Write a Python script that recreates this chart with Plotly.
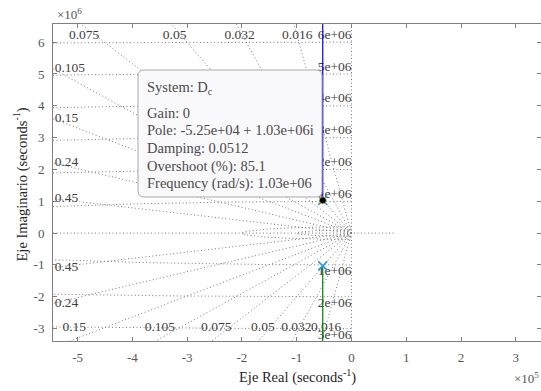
import numpy as np
import plotly.graph_objects as go

# ---------------- data ----------------
zeta_vals = [0.016, 0.032, 0.05, 0.075, 0.105, 0.15, 0.24, 0.45]
zeta_labels = ["0.016", "0.032", "0.05", "0.075", "0.105", "0.15", "0.24", "0.45"]
wn_vals = [1e6, 2e6, 3e6, 4e6, 5e6, 6e6]
wn_labels = ["1e+06", "2e+06", "3e+06", "4e+06", "5e+06", "6e+06"]
small_wn_vals = [1e5, 2e5]

pole_re = -5.25e4
pole_im = [1.03e6, -1.03e6]
locus_up_im = [1.03e6, 8e6]
locus_dn_im = [-1.03e6, -8e6]

x_tick_vals = [-5, -4, -3, -2, -1, 0, 1, 2, 3]
y_tick_vals = [-3, -2, -1, 0, 1, 2, 3, 4, 5, 6]
x_scale = 1e5
y_scale = 1e6
XR = [-5.45e5, 3.46e5]
YR = [-3.39e6, 6.57e6]

tip_lines = ["System: D<sub>c</sub>", "Gain: 0", "Pole: -5.25e+04 + 1.03e+06i",
             "Damping: 0.0512", "Overshoot (%): 85.1", "Frequency (rad/s): 1.03e+06"]

# ---------------- layout constants ----------------
W, H = 541, 391
ML, MR, MT, MB = 53, 0, 24, 50
PW, PH = W - ML - MR, H - MT - MB
SERIF = "Liberation Serif, Times New Roman, serif"
GRID = "#7a7a7a"


def px2paper(px, py):
    return (px - ML) / PW, (H - MB - py) / PH


fig = go.Figure()

# ---------------- sgrid ----------------
gx, gy = [], []
R = 1e9
for z in zeta_vals:
    s = np.sqrt(1 - z * z)
    gx += [0, -z * R, None, 0, -z * R, None]
    gy += [0, s * R, None, 0, -s * R, None]
# zeta = 0 and zeta = 1 lines
gx += [0, 0, None, XR[0], 0.8e5, None]
gy += [-R, R, None, 0, 0, None]
th = np.linspace(np.pi / 2, 3 * np.pi / 2, 600)
for w in wn_vals + small_wn_vals:
    gx += list(w * np.cos(th)) + [None]
    gy += list(w * np.sin(th)) + [None]
fig.add_trace(go.Scatter(x=gx, y=gy, mode="lines",
                         line=dict(color=GRID, width=1, dash="1px,2.5px"),
                         hoverinfo="skip", showlegend=False))

# damping labels
lx, ly, lt, lp = [], [], [], []
for z, lab in zip(zeta_vals, zeta_labels):
    slope = np.sqrt(1 - z * z) / z
    yl = slope * abs(XR[0])
    if yl > YR[1]:
        lx.append(-YR[1] / slope + 0.06e5); ly.append(6.2e6); lp.append("middle center")
    else:
        lx.append(XR[0] + 0.03e5); ly.append(yl); lp.append("middle right")
    lt.append(lab)
    if yl > abs(YR[0]):
        lx.append(YR[0] / slope + 0.08e5); ly.append(-2.98e6); lp.append("middle center")
    else:
        lx.append(XR[0] + 0.03e5); ly.append(-yl); lp.append("middle right")
    lt.append(lab)
fig.add_trace(go.Scatter(x=lx, y=ly, text=lt, mode="text", textposition=lp,
                         textfont=dict(family=SERIF, size=13.5, color="#404040"),
                         hoverinfo="skip", showlegend=False))

# frequency labels
fx, fy, ft, fp = [], [], [], []
for w, lab in zip(wn_vals, wn_labels):
    fx += [0, 0]; fy += [w, -w]; ft += [lab, lab]; fp += ["top left", "bottom left"]
fig.add_trace(go.Scatter(x=fx, y=fy, text=ft, mode="text", textposition=fp,
                         textfont=dict(family=SERIF, size=13.5, color="#404040"),
                         hoverinfo="skip", showlegend=False))

# ---------------- root locus ----------------
fig.add_trace(go.Scatter(x=[pole_re] * len(locus_up_im), y=locus_up_im, mode="lines",
                         line=dict(color="#0000ff", width=1.2), showlegend=False))
fig.add_trace(go.Scatter(x=[pole_re] * len(locus_dn_im), y=locus_dn_im, mode="lines",
                         line=dict(color="#008000", width=1.2), showlegend=False))
fig.add_trace(go.Scatter(x=[pole_re] * len(pole_im), y=pole_im, mode="markers",
                         marker=dict(symbol="x-thin", size=9, color="#2f9be3",
                                     line=dict(color="#2f9be3", width=1.6)),
                         showlegend=False))
fig.add_trace(go.Scatter(x=[pole_re], y=[pole_im[0]], mode="markers",
                         marker=dict(symbol="circle", size=7, color="black",
                                     line=dict(color="#d8c040", width=0.8)),
                         showlegend=False))

# ---------------- data tip box ----------------
bx0, by0, bx1, by1, r = 138, 70, 322, 197, 6
pts = [("M", bx0 + r, by0), ("L", bx1 - r, by0), ("Q", bx1, by0, bx1, by0 + r),
       ("L", bx1, by1 - r), ("Q", bx1, by1, bx1 - r, by1), ("L", bx0 + r, by1),
       ("Q", bx0, by1, bx0, by1 - r), ("L", bx0, by0 + r), ("Q", bx0, by0, bx0 + r, by0)]
path = ""
for p in pts:
    cmd, coords = p[0], p[1:]
    parts = []
    for i in range(0, len(coords), 2):
        a, b = px2paper(coords[i], coords[i + 1])
        parts.append(f"{a:.5f},{b:.5f}")
    path += cmd + " " + " ".join(parts) + " "
path += "Z"
fig.add_shape(type="path", path=path, xref="paper", yref="paper", layer="above",
              fillcolor="rgba(249,249,252,1)", line=dict(color="#a9a9a9", width=1))

line_y = [88, 113, 130, 148, 166, 183]
for txt, py in zip(tip_lines, line_y):
    ax, ay = px2paper(145, py)
    fig.add_annotation(x=ax, y=ay, xref="paper", yref="paper", text=txt, showarrow=False,
                       xanchor="left", yanchor="middle",
                       font=dict(family=SERIF, size=14.5, color="#4a4a4a"))

# ---------------- axis titles / exponents ----------------
fig.add_annotation(x=px2paper(297, 0)[0], y=px2paper(0, 388)[1], xref="paper", yref="paper",
                   text="Eje Real (seconds<sup>-1</sup>)", showarrow=False,
                   font=dict(family=SERIF, size=14.5, color="#262626"))
fig.add_annotation(x=px2paper(10, 0)[0], y=px2paper(0, 185)[1], xref="paper", yref="paper",
                   text="Eje Imaginario (seconds<sup>-1</sup>)", showarrow=False, textangle=-90,
                   font=dict(family=SERIF, size=14.5, color="#262626"))
fig.add_annotation(x=px2paper(55, 0)[0], y=1, xref="paper", yref="paper", text="×10<sup>6</sup>",
                   showarrow=False, xanchor="left", yanchor="bottom", yshift=0,
                   font=dict(family=SERIF, size=13, color="#555555"))
fig.add_annotation(x=1, y=px2paper(0, 378)[1], xref="paper", yref="paper", text="×10<sup>5</sup>",
                   showarrow=False, xanchor="right", yanchor="middle",
                   font=dict(family=SERIF, size=13, color="#555555"))

axis_common = dict(showgrid=False, zeroline=False, showline=True, linecolor="#808080",
                   linewidth=1, mirror="ticks", ticks="inside", ticklen=4,
                   tickcolor="#808080", tickfont=dict(family=SERIF, size=13, color="#555555"))
fig.update_xaxes(range=XR, tickvals=[v * x_scale for v in x_tick_vals],
                 ticktext=[str(v) for v in x_tick_vals], ticklabelstandoff=4, **axis_common)
fig.update_yaxes(range=YR, tickvals=[v * y_scale for v in y_tick_vals],
                 ticktext=[str(v) for v in y_tick_vals], ticklabelstandoff=5, **axis_common)

fig.update_layout(width=W, height=H, margin=dict(l=ML, r=MR, t=MT, b=MB),
                  plot_bgcolor="white", paper_bgcolor="white", showlegend=False)

fig.write_html("out.html", config={"displayModeBar": False},
               post_script="document.body.style.margin='0px';document.body.style.padding='0px';")
